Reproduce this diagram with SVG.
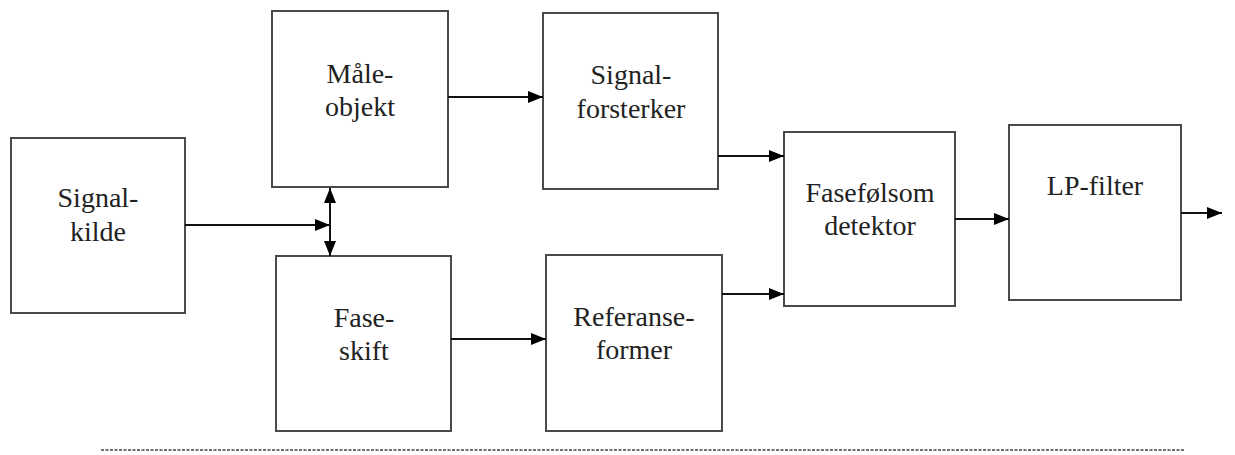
<svg xmlns="http://www.w3.org/2000/svg" width="1235" height="455" viewBox="0 0 1235 455">
<style>
.box{fill:#fff;stroke:#4a4a4a;stroke-width:2}
.c{fill:none;stroke:#111;stroke-width:2}
</style>
<defs>
<marker id="ah" markerUnits="userSpaceOnUse" markerWidth="16" markerHeight="14" refX="15" refY="7" orient="auto-start-reverse">
<path d="M0,1 L15,7 L0,13 Z" fill="#000"/>
</marker>
</defs>
<rect width="1235" height="455" fill="#fff"/>
<g font-family="Liberation Serif, Times New Roman, DejaVu Serif, serif" font-size="28" fill="#222" text-anchor="middle">
<g id="signalkilde"><rect class="box" x="11" y="138" width="174" height="175"/><text x="98" y="207">Signal-</text><text x="98" y="241">kilde</text></g>
<g id="maleobjekt"><rect class="box" x="272" y="11" width="176" height="176"/><text x="360" y="83">Måle-</text><text x="360" y="116">objekt</text></g>
<g id="signalforsterker"><rect class="box" x="543" y="13" width="175" height="176"/><text x="631" y="84">Signal-</text><text x="631" y="118">forsterker</text></g>
<g id="faseskift"><rect class="box" x="276" y="256" width="175" height="175"/><text x="364" y="327">Fase-</text><text x="364" y="360">skift</text></g>
<g id="referanseformer"><rect class="box" x="546" y="255" width="176" height="176"/><text x="634" y="326">Referanse-</text><text x="634" y="359">former</text></g>
<g id="detektor"><rect class="box" x="784" y="132" width="171" height="174"/><text x="870" y="202">Fasefølsom</text><text x="870" y="235">detektor</text></g>
<g id="lpfilter"><rect class="box" x="1009" y="125" width="172" height="175"/><text x="1095" y="195">LP-filter</text></g>
</g>
<g id="connectors">
<line class="c" x1="185" y1="225" x2="330" y2="225" marker-end="url(#ah)"/>
<line class="c" x1="330" y1="188" x2="330" y2="256" marker-start="url(#ah)" marker-end="url(#ah)"/>
<line class="c" x1="448" y1="97" x2="543" y2="97" marker-end="url(#ah)"/>
<line class="c" x1="451" y1="339" x2="546" y2="339" marker-end="url(#ah)"/>
<line class="c" x1="718" y1="156" x2="784" y2="156" marker-end="url(#ah)"/>
<line class="c" x1="722" y1="294" x2="784" y2="294" marker-end="url(#ah)"/>
<line class="c" x1="955" y1="219" x2="1009" y2="219" marker-end="url(#ah)"/>
<line class="c" x1="1181" y1="213" x2="1222" y2="213" marker-end="url(#ah)"/>
</g>
<line x1="101" y1="450" x2="1185" y2="450" stroke="#444" stroke-width="1.5" stroke-dasharray="3,1.5"/>
</svg>
